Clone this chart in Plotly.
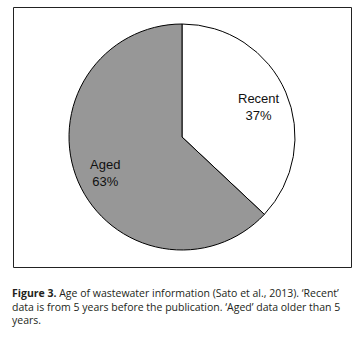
import math
import plotly.graph_objects as go

categories = ["Recent", "Aged"]
values = [37, 63]
colors = ["#ffffff", "#979797"]
caption_bold = "Figure 3."
caption_text = (" Age of wastewater information (Sato et al., 2013). ‘Recent’<br>"
                "data is from 5 years before the publication. ‘Aged’ data older than 5<br>"
                "years.")

W, H = 359, 337
CX, CY, R = 182, 137, 113  # pie centre / radius in pixels
fig = go.Figure(go.Pie(
    labels=categories,
    values=values,
    sort=False,
    direction="clockwise",
    rotation=0,
    marker=dict(colors=colors, line=dict(color="#000000", width=1)),
    textinfo="none",
    domain=dict(x=[(CX - R) / W, (CX + R) / W], y=[(H - CY - R) / H, (H - CY + R) / H]),
    showlegend=False,
    hoverinfo="label+percent",
))

# data labels placed at each slice's mid-angle
total = sum(values)
cum = 0
for lab, v in zip(categories, values):
    mid = (cum + v / 2) / total * 2 * math.pi
    cum += v
    x = CX + 0.74 * R * math.sin(mid)
    y = CY - 0.74 * R * math.cos(mid) + 3
    fig.add_annotation(
        xref="paper", yref="paper", x=x / W, y=(H - y) / H,
        xanchor="center", yanchor="middle", showarrow=False, align="center",
        text=f"{lab}<br>{round(v / total * 100)}%",
        font=dict(family="Liberation Sans, Arial", size=13, color="#111111"),
    )

# frame around the chart
L, Rt, T, B = 13.5, 351.5, 7.5, 267.5
for (x0, y0, x1, y1) in [(L, T, Rt, T), (L, B, Rt, B), (L, T, L, B), (Rt, T, Rt, B)]:
    fig.add_shape(type="line", xref="paper", yref="paper",
                  x0=x0 / W, x1=x1 / W, y0=(H - y0) / H, y1=(H - y1) / H,
                  line=dict(color="#222222", width=1), layer="above")

fig.add_annotation(
    xref="paper", yref="paper", x=10 / W, y=(H - 284) / H,
    xanchor="left", yanchor="top", align="left", showarrow=False,
    text="<b>" + caption_bold + "</b>" + caption_text,
    font=dict(family="Open Sans, Noto Sans", size=10.5, color="#231f20"),
)

fig.update_layout(
    width=W, height=H,
    margin=dict(l=0, r=0, t=0, b=0),
    paper_bgcolor="#ffffff",
    plot_bgcolor="#ffffff",
)
fig.write_html("out.html", config={"displayModeBar": False},
               post_script="document.body.style.margin='0';")
